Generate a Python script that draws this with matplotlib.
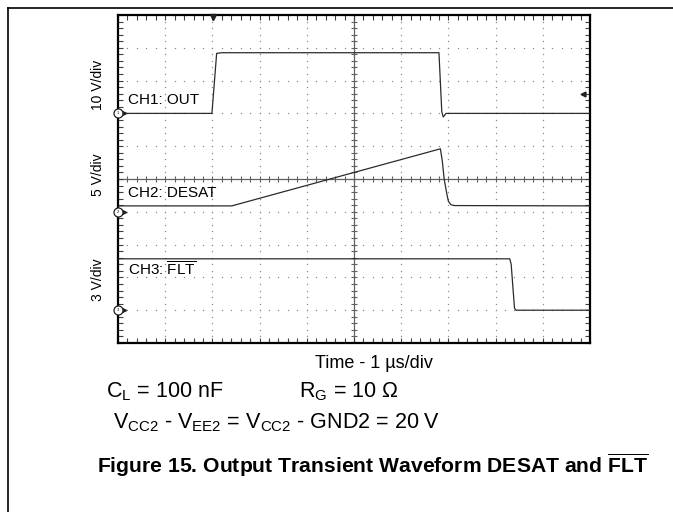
# Output transient waveform DESAT and FLT (scope capture)

import numpy as np
import matplotlib.pyplot as plt
from matplotlib.lines import Line2D

plt.rcParams['font.family'] = ['Liberation Sans', 'DejaVu Sans']
plt.rcParams['mathtext.fontset'] = 'custom'
plt.rcParams['mathtext.rm'] = 'Liberation Sans'
plt.rcParams['mathtext.it'] = 'Liberation Sans:italic'
plt.rcParams['mathtext.bf'] = 'Liberation Sans:bold'

# time in us (1 us/div, 10 div on screen)
t_out = [0, 1.99, 2.09, 2.20, 6.80, 6.86, 6.89, 6.95, 10]
v_out = [0, 0, 18.3, 18.5, 18.5, 0.5, -1.1, 0.0, 0]

t_desat = [0, 2.41, 6.83, 6.87, 6.91, 6.97, 7.00, 7.05, 7.12, 10]
v_desat = [0.9, 0.9, 9.6, 7.8, 5.0, 2.6, 1.6, 1.1, 0.95, 0.9]

t_flt = [0, 8.30, 8.33, 8.40, 8.43, 10]
v_flt = [4.7, 4.7, 4.2, 0.2, 0, 0]

# channel setup: volts per div, ground position (div from bottom)
channels = [
    ("CH1: OUT", "10 V/div", 10, 7, t_out, v_out, 7.41, "1"),
    ("CH2: DESAT", "5 V/div", 5, 4, t_desat, v_desat, 4.57, "2"),
    (r"CH3: $\overline{\mathrm{FLT}}$", "3 V/div", 3, 1, t_flt, v_flt, 2.23, "3"),
]
label_y = [85, 175, 280]  # figure px from top for V/div labels

trig_t = 2.01
trig_level = 5.9  # volts on CH1

fig = plt.figure(figsize=(6.73, 5.12), dpi=100)
ax = fig.add_axes([118 / 673, 1 - 343 / 512, 472 / 673, 328 / 512])
ax.set_xlim(0, 10)
ax.set_ylim(0, 10)

# graticule dots
minor = np.arange(0, 10.001, 0.2)
for k in range(1, 10):
    if k == 5:
        continue
    ax.scatter(minor, np.full_like(minor, k), s=1.0, color='#8a8a8a', lw=0, zorder=1)
    ax.scatter(np.full_like(minor, k), minor, s=1.0, color='#8a8a8a', lw=0, zorder=1)

# center crosshair with ticks
ax.axhline(5, color='#606060', lw=0.9, zorder=1)
ax.axvline(5, color='#606060', lw=0.9, zorder=1)
ax.plot(minor, np.full_like(minor, 5), ls='none', marker='|', ms=5, mew=0.8, color='#606060', zorder=1)
ax.plot(np.full_like(minor, 5), minor, ls='none', marker='_', ms=5, mew=0.8, color='#606060', zorder=1)

# edge ticks
ax.set_xticks(minor)
ax.set_yticks(minor)
ax.tick_params(direction='in', length=3.5, width=0.8, color='#404040',
               top=True, right=True, labelbottom=False, labelleft=False)
for s in ax.spines.values():
    s.set_linewidth(1.6)

for name, vdiv_txt, vdiv, gnd, tt, vv, ly, num in channels:
    y = [gnd + v / vdiv for v in vv]
    ax.plot(tt, y, color='#2b2b2b', lw=0.9, zorder=3)
    ax.text(0.21, ly, name, fontsize=11, va='center', ha='left', zorder=4)
    ax.plot(0.13, gnd, marker='>', ms=3, color='#202020', clip_on=False, zorder=5)
    ax.plot(0, gnd, marker='o', ms=6.5, mfc='white', mec='#202020', mew=0.9,
            clip_on=False, zorder=5)
    ax.text(0, gnd, num, fontsize=3, ha='center', va='center', zorder=6, clip_on=False)

for (name, vdiv_txt, *_), yp in zip(channels, label_y):
    fig.text(98 / 673, 1 - yp / 512, vdiv_txt, rotation=90, fontsize=10,
             ha='center', va='center')

# trigger markers
ax.plot(trig_t, 9.93, marker='v', ms=5, color='#202020', clip_on=False, zorder=5)
ax.plot(9.85, 7 + trig_level / 10, marker='<', ms=3.5, color='#202020', zorder=5)

# text under the screen
fig.text(374 / 673, 1 - 363 / 512, "Time - 1 \u00b5s/div", fontsize=13, ha='center', va='center')
fig.text(106 / 673, 1 - 397 / 512, r"C$_\mathrm{L}$ = 100 nF", fontsize=15.5, va='baseline')
fig.text(299 / 673, 1 - 397 / 512, "R$_\\mathrm{G}$ = 10 \u03a9", fontsize=15.5, va='baseline')
fig.text(113 / 673, 1 - 428 / 512,
         r"V$_\mathrm{CC2}$ - V$_\mathrm{EE2}$ = V$_\mathrm{CC2}$ - GND2 = 20 V",
         fontsize=15.5, va='baseline')
fig.text(97 / 673, 1 - 473 / 512,
         r"Figure 15. Output Transient Waveform DESAT and $\overline{\mathbf{FLT}}$",
         fontsize=15.2, fontweight='bold', va='baseline')

# page frame (top and left)
fig.add_artist(Line2D([8 / 673, 8 / 673], [0, 1 - 8 / 512], color='black', lw=1.2))
fig.add_artist(Line2D([8 / 673, 1], [1 - 8 / 512, 1 - 8 / 512], color='black', lw=1.2))

fig.savefig("out.png", dpi=100)
